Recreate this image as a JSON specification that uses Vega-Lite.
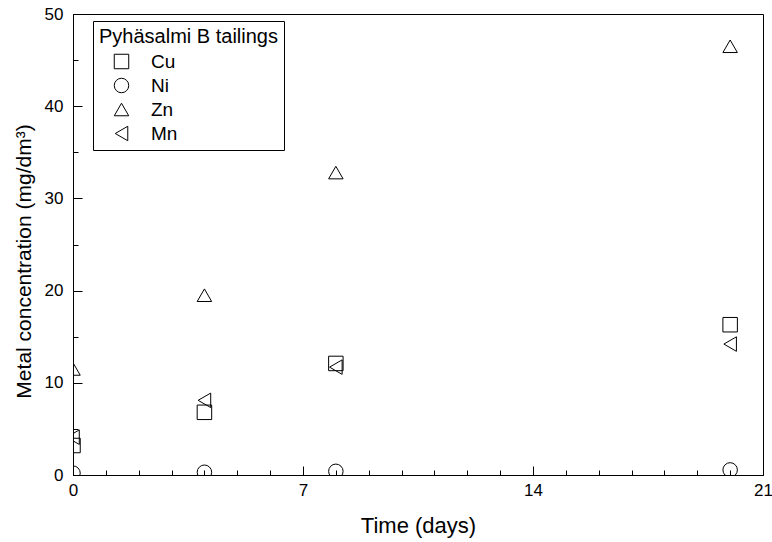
{
  "$schema": "https://vega.github.io/schema/vega-lite/v6.json",
  "width": 690,
  "height": 461,
  "autosize": {"type": "none"},
  "padding": {"left": 73, "top": 14, "right": 9, "bottom": 67},
  "background": "white",
  "config": {
    "font": "Liberation Sans",
    "view": {"stroke": "black", "strokeWidth": 1},
    "axis": {"grid": false, "domainColor": "black", "tickColor": "black", "labelColor": "black", "titleColor": "black", "labelFont": "Liberation Sans", "titleFont": "Liberation Sans", "labelFontSize": 17, "titleFontSize": 22, "titleFontWeight": "normal", "tickWidth": 1, "domainWidth": 1, "labelFlush": false}
  },
  "data": {"values": [
    {"day": 0, "metal": "Cu", "conc": 3.2},
    {"day": 0, "metal": "Ni", "conc": 0.2},
    {"day": 0, "metal": "Zn", "conc": 11.5},
    {"day": 0, "metal": "Mn", "conc": 4.1},
    {"day": 4, "metal": "Cu", "conc": 6.8},
    {"day": 4, "metal": "Ni", "conc": 0.3},
    {"day": 4, "metal": "Zn", "conc": 19.5},
    {"day": 4, "metal": "Mn", "conc": 8.1},
    {"day": 8, "metal": "Cu", "conc": 12.1},
    {"day": 8, "metal": "Ni", "conc": 0.4},
    {"day": 8, "metal": "Zn", "conc": 32.8},
    {"day": 8, "metal": "Mn", "conc": 11.7},
    {"day": 20, "metal": "Cu", "conc": 16.3},
    {"day": 20, "metal": "Ni", "conc": 0.55},
    {"day": 20, "metal": "Zn", "conc": 46.5},
    {"day": 20, "metal": "Mn", "conc": 14.2}
  ]},
  "layer": [
    {
      "mark": {"type": "point", "opacity": 0},
      "encoding": {
        "x": {"field": "day", "type": "quantitative", "scale": {"domain": [0, 21], "nice": false, "zero": false},
          "axis": {"orient": "bottom", "values": [0,1,2,3,4,5,6,7,8,9,10,11,12,13,14,15,16,17,18,19,20,21], "labels": false, "tickSize": -5, "domain": false, "title": null}},
        "y": {"field": "conc", "type": "quantitative", "scale": {"domain": [0, 50], "nice": false},
          "axis": {"orient": "left", "values": [0,5,10,15,20,25,30,35,40,45,50], "labels": false, "tickSize": -5, "domain": false, "title": null}}
      }
    },
    {
      "mark": {"type": "point", "filled": false, "color": "black", "strokeWidth": 1, "size": 210, "opacity": 1, "clip": true},
      "encoding": {
        "x": {"field": "day", "type": "quantitative", "scale": {"domain": [0, 21], "nice": false, "zero": false},
          "axis": {"orient": "bottom", "values": [0, 7, 14, 21], "tickSize": -9, "labelPadding": 16, "title": "Time (days)", "titlePadding": 17}},
        "y": {"field": "conc", "type": "quantitative", "scale": {"domain": [0, 50], "nice": false},
          "axis": {"orient": "left", "values": [0, 10, 20, 30, 40, 50], "tickSize": -9, "labelPadding": 19, "title": "Metal concentration (mg/dm³)", "titlePadding": 10, "titleFontSize": 21, "titleY": 247}},
        "shape": {"field": "metal", "type": "nominal",
          "scale": {"domain": ["Cu", "Ni", "Zn", "Mn"], "range": ["square", "circle", "triangle-up", "triangle-left"]},
          "legend": {"title": "Pyhäsalmi B tailings", "orient": "none", "legendX": 20, "legendY": 7,
            "strokeColor": "black", "fillColor": "white", "padding": 6,
            "titleFont": "Liberation Sans", "titleFontSize": 20, "titleFontWeight": "normal", "titleColor": "black",
            "labelFont": "Liberation Sans", "labelFontSize": 19, "labelColor": "black",
            "symbolSize": 210, "symbolStrokeColor": "black", "symbolFillColor": "white", "symbolStrokeWidth": 1,
            "symbolOffset": 13, "labelOffset": 20, "rowPadding": 4, "titlePadding": 5}}
      }
    }
  ],
  "resolve": {"axis": {"x": "independent", "y": "independent"}}
}
